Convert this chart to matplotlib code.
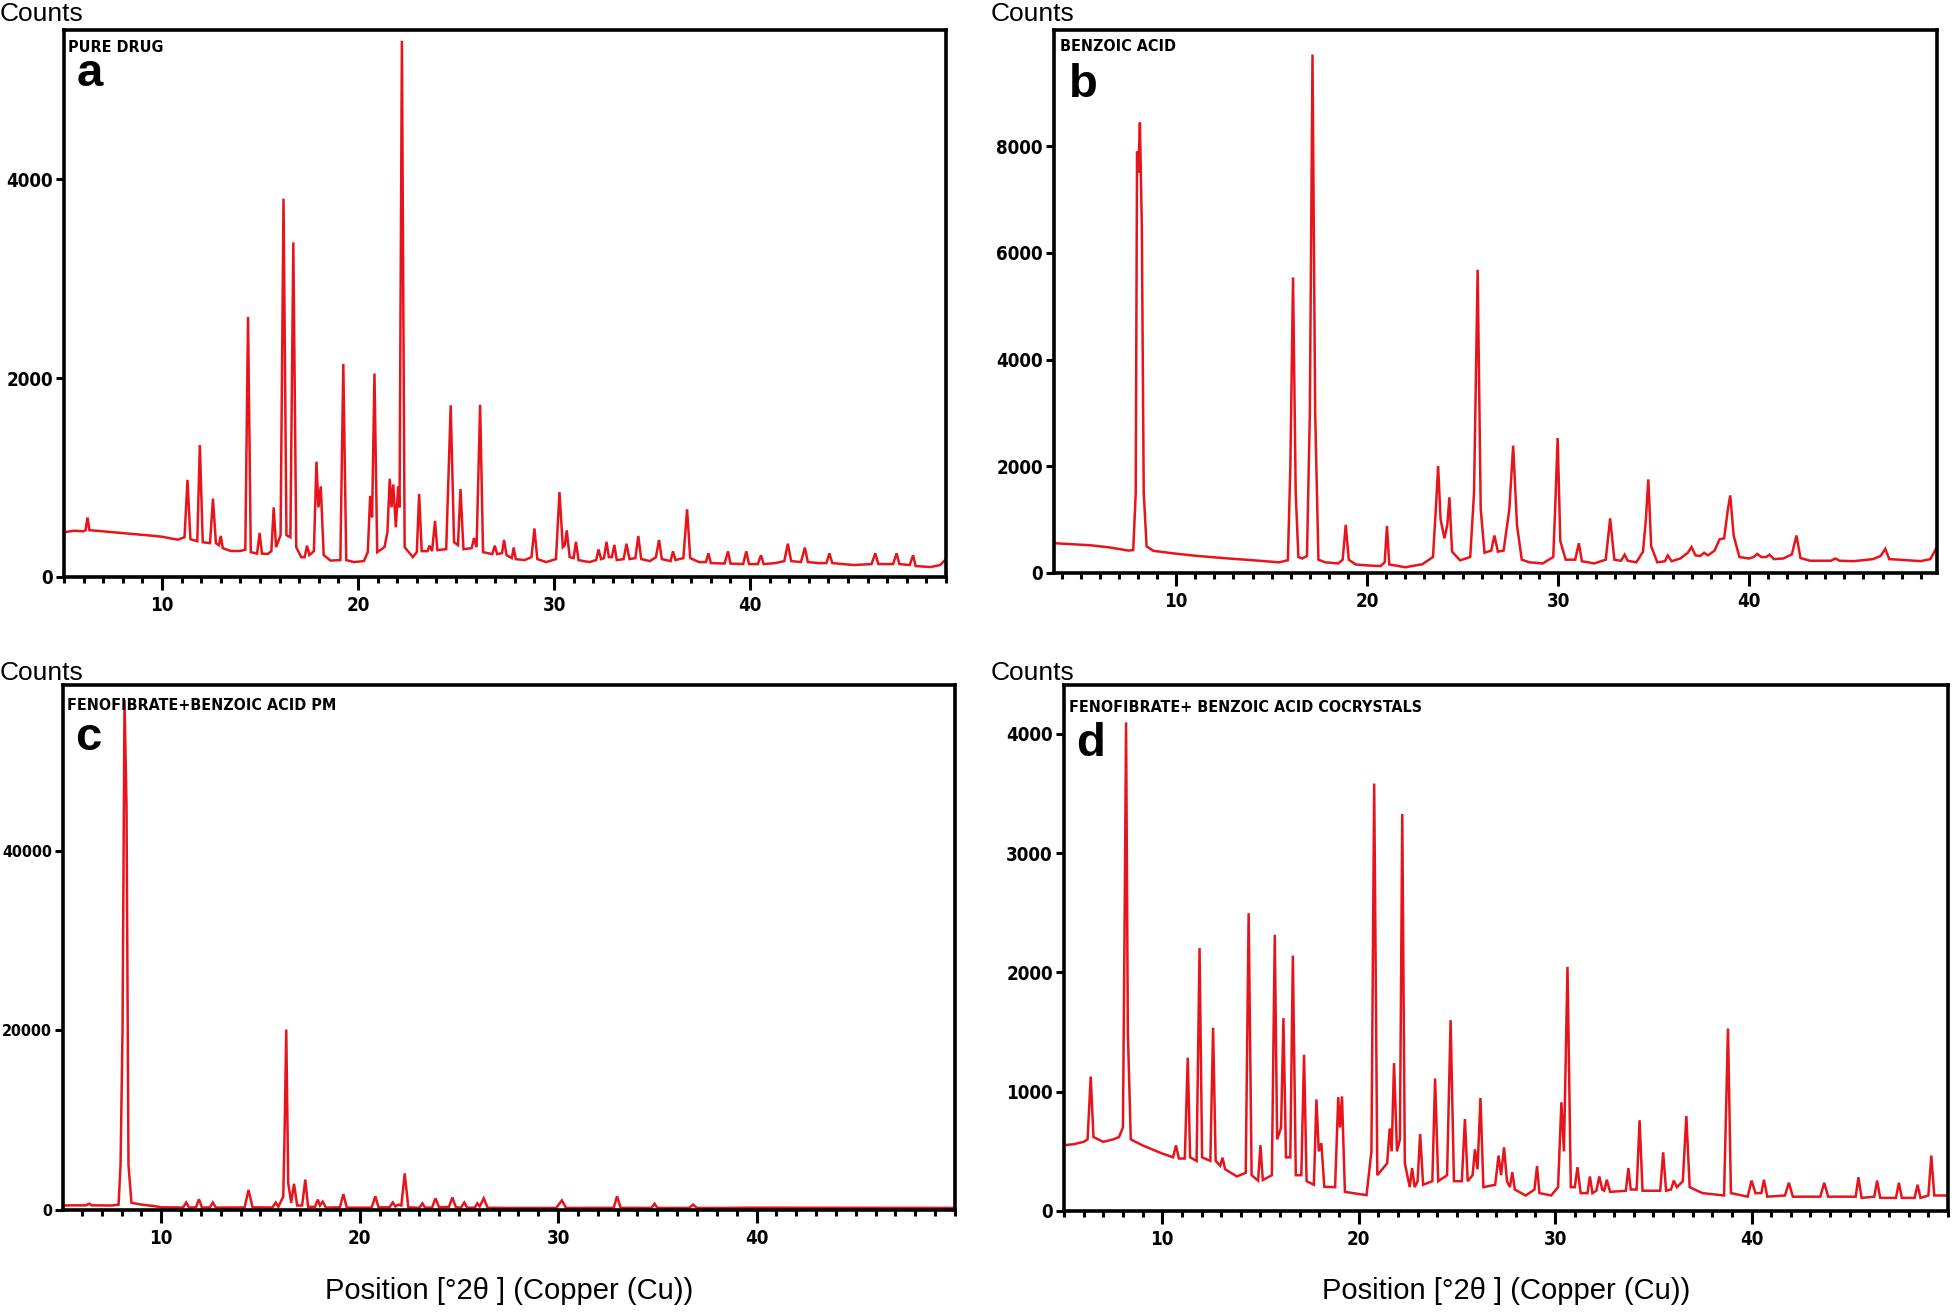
import matplotlib
matplotlib.use("Agg")
import matplotlib.pyplot as plt
from matplotlib import font_manager as fm
from matplotlib.font_manager import FontProperties
from matplotlib.ticker import MultipleLocator

# ---------------- data ----------------
a_theta = [5.0, 5.5, 6.0, 6.1, 6.2, 6.3, 6.8, 7.5, 8.5, 9.5, 10.0, 10.8, 11.15, 11.3, 11.45,
           11.8, 11.93, 12.08, 12.45, 12.6, 12.75, 12.9, 13.0, 13.1, 13.5, 14.0, 14.25, 14.39,
           14.53, 14.85, 14.98, 15.1, 15.4, 15.58, 15.7, 15.82, 16.05, 16.2, 16.35, 16.55, 16.7,
           16.85, 17.1, 17.28, 17.4, 17.52, 17.75, 17.88, 17.98, 18.1, 18.25, 18.6, 19.1, 19.25,
           19.4, 19.8, 20.3, 20.5, 20.62, 20.72, 20.84, 20.98, 21.35, 21.5, 21.62, 21.71, 21.8,
           21.93, 22.05, 22.12, 22.24, 22.38, 22.8, 23.0, 23.12, 23.25, 23.55, 23.65, 23.78,
           23.93, 24.05, 24.5, 24.73, 24.9, 25.1, 25.23, 25.38, 25.8, 25.92, 26.05, 26.23, 26.38,
           26.85, 26.98, 27.1, 27.35, 27.45, 27.58, 27.85, 27.94, 28.05, 28.5, 28.85, 29.0, 29.15,
           29.6, 30.1, 30.28, 30.45, 30.55, 30.65, 30.8, 31.0, 31.12, 31.25, 31.8, 32.15, 32.27,
           32.4, 32.55, 32.68, 32.8, 32.95, 33.08, 33.2, 33.55, 33.7, 33.85, 34.15, 34.3, 34.45,
           34.9, 35.2, 35.36, 35.5, 35.95, 36.07, 36.2, 36.6, 36.79, 36.95, 37.4, 37.75, 37.88,
           38.0, 38.7, 38.88, 39.0, 39.65, 39.81, 39.95, 40.4, 40.56, 40.7, 41.3, 41.75, 41.93,
           42.1, 42.6, 42.8, 42.95, 43.5, 43.9, 44.05, 44.2, 45.3, 46.2, 46.39, 46.55, 47.3, 47.48,
           47.62, 48.15, 48.32, 48.45, 49.2, 49.7, 50.0]
a_counts = [450, 465, 460, 470, 598, 470, 463, 450, 433, 415, 405, 375, 400, 977, 380,
            360, 1327, 350, 340, 788, 340, 320, 413, 290, 262, 262, 275, 2615,
            250, 235, 443, 235, 232, 260, 700, 300, 420, 3804, 420, 400, 3365,
            300, 200, 200, 315, 220, 260, 1160, 700, 911, 220, 165, 170, 2142,
            170, 150, 160, 250, 815, 600, 2046, 250, 300, 450, 988, 700, 930,
            500, 911, 700, 5392, 300, 200, 250, 835, 260, 260, 315, 260,
            565, 270, 280, 1727, 350, 320, 885, 280, 290, 392, 300, 1731, 250,
            230, 315, 230, 240, 373, 220, 190, 296, 180, 170, 200, 488, 180,
            150, 180, 854, 300, 320, 469, 200, 190, 354, 170, 150, 170, 277,
            180, 190, 354, 200, 200, 323, 170, 180, 335, 180, 190, 412, 180,
            160, 200, 373, 180, 160, 258, 170, 190, 681, 190, 150, 150, 238,
            140, 135, 258, 135, 130, 258, 130, 130, 219, 130, 140, 160, 335,
            160, 150, 296, 150, 140, 140, 238, 140, 120, 130, 238, 130, 130, 238,
            130, 120, 219, 110, 100, 120, 180]

b_theta = [3.6, 4.5, 5.5, 6.5, 7.5, 7.75, 7.88, 7.95, 8.02, 8.1, 8.2, 8.3, 8.45, 8.8, 9.8, 11.0,
           12.75, 14.0, 15.4, 15.85, 15.98, 16.12, 16.26, 16.4, 16.6, 16.85, 17.0, 17.14, 17.28,
           17.45, 17.8, 18.5, 18.72, 18.88, 19.04, 19.4, 20.0, 20.7, 20.92, 21.04, 21.16, 22.0,
           22.9, 23.45, 23.6, 23.72, 23.85, 24.05, 24.2, 24.31, 24.45, 24.87, 25.4, 25.6, 25.79,
           25.95, 26.15, 26.5, 26.67, 26.85, 27.15, 27.45, 27.65, 27.85, 28.1, 28.5, 29.2, 29.75,
           29.85, 29.98, 30.12, 30.4, 30.9, 31.09, 31.25, 31.9, 32.5, 32.73, 32.95, 33.3, 33.49,
           33.65, 34.1, 34.45, 34.6, 34.73, 34.88, 35.2, 35.6, 35.75, 35.95, 36.4, 36.8, 36.99,
           37.2, 37.45, 37.65, 37.85, 38.2, 38.46, 38.7, 38.9, 39.02, 39.2, 39.5, 40.0, 40.25,
           40.43, 40.65, 40.9, 41.08, 41.3, 41.8, 42.25, 42.49, 42.7, 43.2, 44.3, 44.52, 44.75,
           45.5, 46.5, 46.9, 47.14, 47.35, 47.8, 49.0, 49.5, 49.85]
b_counts = [559, 540, 520, 480, 420, 430, 1500, 7900, 7500, 8445, 6500, 1500, 500, 416, 370, 323,
            272, 240, 200, 240, 2000, 5541, 1500, 300, 272, 320, 3000, 9720, 3000,
            250, 200, 180, 250, 903, 250, 160, 143, 129, 200, 882, 160, 108,
            165, 300, 1200, 2007, 1000, 650, 900, 1419, 400, 237, 300, 1500, 5685,
            1200, 380, 420, 703, 400, 420, 1200, 2387, 900, 250, 200, 180, 300,
            1200, 2530, 600, 250, 250, 559, 220, 180, 250, 1025, 250, 230, 344,
            230, 200, 400, 1000, 1756, 500, 200, 220, 330, 220, 272, 380, 487,
            330, 320, 380, 330, 420, 631, 650, 1200, 1455, 700, 300, 272, 300,
            358, 300, 300, 344, 260, 272, 350, 703, 280, 230, 230, 272, 230,
            222, 260, 320, 452, 260, 251, 222, 260, 488]

c_theta = [5.05, 6.2, 6.37, 6.5, 7.5, 7.85, 7.95, 8.05, 8.15, 8.25, 8.35, 8.5, 9.0, 9.6, 10.0,
           11.1, 11.26, 11.4, 11.75, 11.9, 12.05, 12.45, 12.6, 12.75, 14.2, 14.4, 14.6, 15.6,
           15.77, 15.9, 16.15, 16.22, 16.3, 16.4, 16.55, 16.69, 16.85, 17.1, 17.26, 17.4, 17.75,
           17.89, 18.0, 18.14, 18.3, 19.0, 19.18, 19.35, 20.6, 20.79, 20.95, 21.5, 21.67, 21.8,
           21.95, 22.1, 22.27, 22.45, 23.0, 23.16, 23.3, 23.65, 23.82, 24.0, 24.5, 24.67, 24.85,
           25.1, 25.27, 25.42, 25.8, 25.93, 26.05, 26.25, 26.45, 27.5, 29.9, 30.19, 30.4, 32.8,
           32.97, 33.15, 34.7, 34.86, 35.0, 36.6, 36.8, 37.0, 38.5, 39.5, 50.0]
c_counts = [510, 520, 700, 520, 500, 600, 5000, 20000, 56750, 45000, 5000, 800, 600, 450, 300,
            280, 835, 280, 290, 1200, 280, 280, 835, 270, 280, 2230, 300, 280,
            835, 350, 1500, 9000, 20093, 3000, 800, 2920, 500, 500, 3390, 350, 350,
            1160, 500, 930, 260, 300, 1760, 260, 260, 1530, 300, 300, 835, 400,
            600, 500, 4080, 300, 250, 740, 250, 280, 1300, 300, 350, 1390, 300,
            250, 835, 250, 260, 740, 400, 1300, 250, 230, 230, 1070, 230, 240,
            1530, 240, 230, 700, 230, 230, 600, 230, 230, 260, 230]

d_theta = [5.0, 5.5, 6.0, 6.2, 6.36, 6.5, 7.0, 7.5, 7.8, 8.0, 8.08, 8.16, 8.25, 8.4, 9.0, 10.0,
           10.55, 10.7, 10.85, 11.15, 11.3, 11.42, 11.75, 11.9, 12.03, 12.45, 12.59, 12.72, 12.95,
           13.07, 13.2, 13.8, 14.25, 14.4, 14.55, 14.88, 15.0, 15.12, 15.58, 15.73, 15.85, 16.05,
           16.17, 16.3, 16.52, 16.65, 16.8, 17.08, 17.22, 17.35, 17.72, 17.85, 17.97, 18.1, 18.25,
           18.8, 18.96, 19.05, 19.15, 19.3, 20.4, 20.65, 20.79, 20.95, 21.45, 21.58, 21.68, 21.8,
           21.95, 22.1, 22.22, 22.35, 22.6, 22.72, 22.85, 23.0, 23.13, 23.28, 23.75, 23.89, 24.05,
           24.5, 24.68, 24.85, 25.25, 25.41, 25.55, 25.8, 25.92, 26.05, 26.2, 26.35, 26.95, 27.12,
           27.25, 27.4, 27.55, 27.7, 27.82, 27.95, 28.5, 28.95, 29.08, 29.2, 29.8, 30.15, 30.32,
           30.45, 30.63, 30.8, 31.0, 31.14, 31.3, 31.65, 31.77, 31.9, 32.1, 32.25, 32.4, 32.5,
           32.63, 32.8, 33.6, 33.73, 33.85, 34.15, 34.3, 34.45, 35.35, 35.5, 35.65, 35.9, 36.04,
           36.2, 36.5, 36.68, 36.85, 37.5, 38.6, 38.8, 38.95, 39.8, 40.0, 40.2, 40.5, 40.63, 40.8,
           41.7, 41.9, 42.1, 43.5, 43.7, 43.9, 45.3, 45.44, 45.6, 46.25, 46.39, 46.55, 47.35, 47.5,
           47.65, 48.3, 48.45, 48.6, 49.0, 49.15, 49.3, 50.0]
d_counts = [552, 560, 580, 600, 1128, 620, 580, 600, 620, 700, 2300, 4097, 1500, 600, 550, 482,
            450, 550, 440, 440, 1285, 450, 420, 2204, 450, 420, 1537, 420, 380,
            447, 350, 290, 320, 2497, 300, 255, 552, 260, 300, 2316, 600, 700,
            1617, 450, 450, 2141, 300, 300, 1310, 250, 220, 936, 500, 569, 203,
            200, 954, 700, 961, 160, 133, 500, 3584, 300, 400, 692, 500, 1240,
            500, 600, 3329, 400, 200, 360, 200, 250, 646, 220, 250, 1111, 250,
            300, 1600, 250, 250, 772, 250, 300, 517, 350, 947, 200, 220, 465,
            300, 534, 250, 200, 325, 180, 130, 180, 377, 150, 130, 200, 912,
            500, 2047, 200, 200, 367, 150, 150, 290, 150, 170, 290, 180, 170,
            262, 160, 170, 360, 180, 180, 761, 170, 170, 492, 170, 180, 255,
            200, 250, 796, 200, 150, 130, 1530, 150, 120, 255, 150, 150, 262, 120,
            130, 237, 120, 120, 237, 120, 120, 283, 110, 120, 255, 110, 110, 237,
            110, 110, 220, 110, 130, 465, 130, 130]

panel_titles = ["PURE DRUG", "BENZOIC ACID", "FENOFIBRATE+BENZOIC ACID PM",
                "FENOFIBRATE+ BENZOIC ACID COCRYSTALS"]
panel_letters = ["a", "b", "c", "d"]
a_yticks = [0, 2000, 4000]
b_yticks = [0, 2000, 4000, 6000, 8000]
c_yticks = [0, 20000, 40000]
d_yticks = [0, 1000, 2000, 3000, 4000]
x_ticks = [10, 20, 30, 40]
y_axis_label = "Counts"
x_axis_label = "Position [°2θ ] (Copper (Cu))"

# ---------------- fonts ----------------
def narrow_bold():
    prefs = ["LiberationSansNarrow-Bold", "DejaVuSansCondensed-Bold", "RobotoCondensed-Bold",
             "OpenSans_Condensed-Bold", "OpenSans-CondensedBold", "NotoSans-CondensedBold"]
    files = [f.fname for f in fm.fontManager.ttflist]
    for p in prefs:
        for fn in files:
            if p.lower() in fn.lower().replace(" ", ""):
                return fn
    for fn in files:
        low = fn.lower()
        if ("condensed" in low or "narrow" in low) and "bold" in low and "extra" not in low:
            return fn
    return None

nb = narrow_bold()
if nb:
    TICKFP = FontProperties(fname=nb, size=13.5)
    TICKFP_SMALL = FontProperties(fname=nb, size=11.5)
    TITLEFP = FontProperties(fname=nb, size=11.5)
else:
    TICKFP = FontProperties(family="DejaVu Sans", weight="bold", size=12)
    TICKFP_SMALL = FontProperties(family="DejaVu Sans", weight="bold", size=10.5)
    TITLEFP = FontProperties(family="DejaVu Sans", weight="bold", size=9.5)

SANS = ["Liberation Sans", "DejaVu Sans"]

# ---------------- figure ----------------
W, H = 1960, 1312
fig = plt.figure(figsize=(W / 100, H / 100), dpi=100)
RED = "#e8141b"


def fx(px):
    return px / W


def fy(py):
    return 1 - py / H


panels = [
    dict(box=(64, 30, 946, 577), t=a_theta, c=a_counts, xlim=(5.0, 50.0), ylim=(0, 5500),
         yt=a_yticks, yfp=TICKFP, counts_at=(0, 21), title_at=(68, 52), letter_at=(77, 86)),
    dict(box=(1054, 30, 1937, 573), t=b_theta, c=b_counts, xlim=(3.6, 49.85), ylim=(0, 10180),
         yt=b_yticks, yfp=TICKFP, counts_at=(991, 21), title_at=(1060, 51), letter_at=(1069, 97)),
    dict(box=(63, 685, 955, 1210), t=c_theta, c=c_counts, xlim=(5.05, 50.0), ylim=(0, 58450),
         yt=c_yticks, yfp=TICKFP_SMALL, counts_at=(0, 680), title_at=(67, 710),
         letter_at=(75, 750)),
    dict(box=(1064, 685, 1948, 1211), t=d_theta, c=d_counts, xlim=(5.0, 50.0), ylim=(0, 4410),
         yt=d_yticks, yfp=TICKFP, counts_at=(991, 680), title_at=(1069, 712),
         letter_at=(1076, 756)),
]

for i, p in enumerate(panels):
    l, t, r, b = p["box"]
    ax = fig.add_axes([fx(l), fy(b), (r - l) / W, (b - t) / H])
    ax.plot(p["t"], p["c"], color=RED, lw=1.8, solid_joinstyle="miter")
    ax.set_xlim(*p["xlim"])
    ax.set_ylim(*p["ylim"])
    for s in ax.spines.values():
        s.set_linewidth(2.6)
        s.set_color("black")
    ax.set_xticks(x_ticks, [str(v) for v in x_ticks], fontproperties=TICKFP)
    ax.set_yticks(p["yt"], [str(v) for v in p["yt"]], fontproperties=p["yfp"])
    ax.xaxis.set_minor_locator(MultipleLocator(1))
    ax.tick_params(axis="x", which="major", direction="out", length=9, width=2.2, pad=5)
    ax.tick_params(axis="x", which="minor", direction="out", length=4, width=2.2)
    ax.tick_params(axis="y", which="major", direction="out", length=6, width=2.2, pad=2)
    ax.tick_params(axis="y", which="minor", left=False)

    cx, cy = p["counts_at"]
    fig.text(fx(cx), fy(cy), y_axis_label, family=SANS, fontsize=19,
             ha="left", va="baseline")
    tx, ty = p["title_at"]
    fig.text(fx(tx), fy(ty), panel_titles[i], fontproperties=TITLEFP,
             ha="left", va="baseline")
    lx, ly = p["letter_at"]
    fig.text(fx(lx), fy(ly), panel_letters[i], family=SANS, fontsize=34,
             fontweight="bold", ha="left", va="baseline")

# x-axis labels below bottom panels
fig.text(fx((63 + 955) / 2), fy(1291), x_axis_label, family=SANS, fontsize=21,
         ha="center", va="center")
fig.text(fx((1064 + 1948) / 2), fy(1291), x_axis_label, family=SANS, fontsize=21,
         ha="center", va="center")

fig.savefig("out.png", dpi=100, facecolor="white")
